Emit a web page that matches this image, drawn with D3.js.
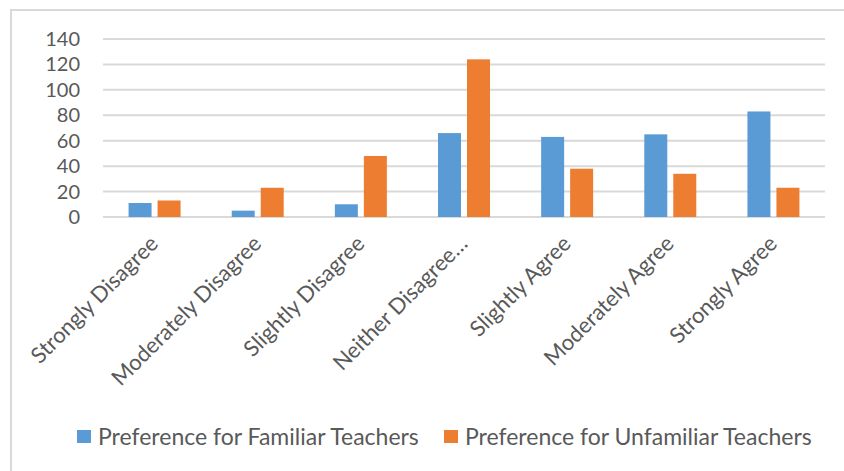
<!DOCTYPE html>
<html>
<head>
<meta charset="utf-8">
<script src="https://cdn.jsdelivr.net/npm/d3@7"></script>
<style>
  body { margin: 0; background: #fff; }
  text { font-family: Lato, "Noto Sans", sans-serif; fill: #595959; }
</style>
</head>
<body>
<script>
const WIDTH = 844
const HEIGHT = 471

const categories = ['Strongly Disagree', 'Moderately Disagree', 'Slightly Disagree', 'Neither Disagree…', 'Slightly Agree', 'Moderately Agree', 'Strongly Agree']
const familiar = [11, 5, 10, 66, 63, 65, 83]
const unfamiliar = [13, 23, 48, 124, 38, 34, 23]
const seriesNames = ['Preference for Familiar Teachers', 'Preference for Unfamiliar Teachers']
const colors = ['#5b9bd5', '#ed7d31']
const yTicks = [0, 20, 40, 60, 80, 100, 120, 140]

const svg = d3.select('body').append('svg')
  .attr('width', WIDTH)
  .attr('height', HEIGHT)

// chart frame
svg.append('rect')
  .attr('x', 11).attr('y', 10)
  .attr('width', 850).attr('height', 480)
  .attr('fill', 'none')
  .attr('stroke', '#d9d9d9')
  .attr('stroke-width', 2)

const x = d3.scaleBand().domain(categories).range([103, 825])
const y = d3.scaleLinear().domain([0, 140]).range([217, 39])

// gridlines
svg.append('g')
  .selectAll('line')
  .data(yTicks)
  .enter()
  .append('line')
  .attr('x1', 103).attr('x2', 825)
  .attr('y1', d => y(d)).attr('y2', d => y(d))
  .attr('stroke', '#d9d9d9')
  .attr('stroke-width', 2)

// y labels
svg.append('g')
  .selectAll('text')
  .data(yTicks)
  .enter()
  .append('text')
  .attr('x', 80)
  .attr('y', d => y(d))
  .attr('dy', '0.35em')
  .attr('text-anchor', 'end')
  .attr('font-size', 20)
  .text(d => d)

// bars
const barW = 23
const gap = 6
const series = [familiar, unfamiliar]
series.forEach((vals, si) => {
  svg.append('g')
    .selectAll('rect')
    .data(vals)
    .enter()
    .append('rect')
    .attr('x', (d, i) => x(categories[i]) + x.bandwidth() / 2 + (si === 0 ? -(barW + gap / 2) : gap / 2))
    .attr('y', d => y(d))
    .attr('width', barW)
    .attr('height', d => y(0) - y(d))
    .attr('fill', colors[si])
})

// category labels
svg.append('g')
  .selectAll('text')
  .data(categories)
  .enter()
  .append('text')
  .attr('text-anchor', 'end')
  .attr('font-size', 22)
  .attr('transform', d => `translate(${x(d) + x.bandwidth() / 2 + 5},${245}) rotate(-45)`)
  .text(d => d)

// legend
const legendX = [77, 444]
seriesNames.forEach((name, i) => {
  svg.append('rect')
    .attr('x', legendX[i]).attr('y', 430)
    .attr('width', 14).attr('height', 13)
    .attr('fill', colors[i])
  svg.append('text')
    .attr('x', legendX[i] + 21).attr('y', 437)
    .attr('dy', '0.35em')
    .attr('font-size', 23)
    .text(name)
})
</script>
</body>
</html>
